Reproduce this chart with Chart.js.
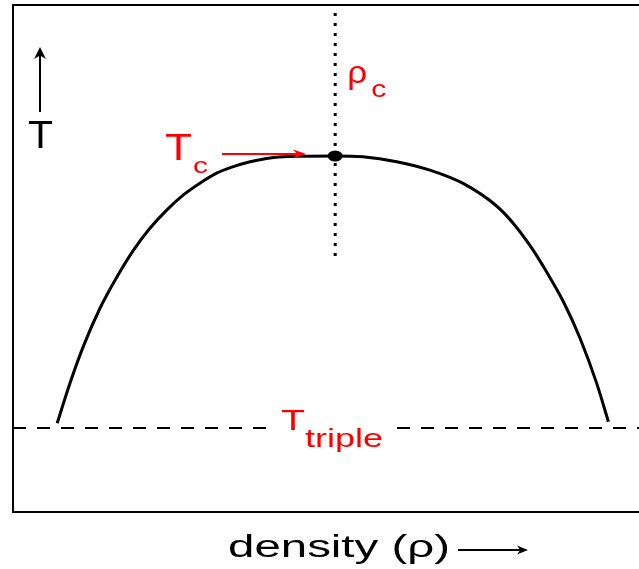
<!DOCTYPE html>
<html>
<head>
<meta charset="utf-8">
<script src="https://cdn.jsdelivr.net/npm/chart.js@4/dist/chart.umd.min.js"></script>
<style>
  html, body { margin: 0; padding: 0; background: #fff; overflow: hidden; }
</style>
</head>
<body>
<canvas id="phase" width="639" height="569" style="display:block;width:639px;height:569px"></canvas>
<script>
// coexistence curve, reduced units (rho/rho_c, T/T_c)
const curveRho = [0.137, 0.177, 0.218, 0.270, 0.322, 0.373, 0.425, 0.477, 0.529, 0.580, 0.632, 0.684, 0.736, 0.787, 0.839, 0.891, 1.000,
                  1.086, 1.191, 1.294, 1.397, 1.501, 1.553, 1.605, 1.656, 1.708, 1.760, 1.812, 1.848];
const curveT   = [0.017, 0.165, 0.299, 0.440, 0.554, 0.652, 0.734, 0.801, 0.857, 0.900, 0.937, 0.961, 0.979, 0.991, 0.997, 0.999, 1.000,
                  0.997, 0.979, 0.948, 0.899, 0.816, 0.752, 0.670, 0.574, 0.465, 0.330, 0.163, 0.023];

// critical point and the dotted guide through it
const criticalRho = 1.0;
const criticalT = 1.0;
const guideT = [1.526, 0.625];

// triple point temperature
const tripleT = 0.0;
const rhoRange = [0, 1.943];
const tRange = [-0.309, 1.555];

const FONT = '"Liberation Sans", Arial, Helvetica, sans-serif';

// draw text stretched to a given width
function stretchText(ctx, text, x, y, size, width, color) {
  ctx.save();
  ctx.font = size + 'px ' + FONT;
  ctx.fillStyle = color;
  ctx.textBaseline = 'alphabetic';
  const w = ctx.measureText(text).width;
  ctx.translate(x, y);
  ctx.scale(width / w, 1);
  ctx.fillText(text, 0, 0);
  ctx.restore();
}

function arrow(ctx, x1, y1, x2, y2, color, lw, headLen, headW) {
  const a = Math.atan2(y2 - y1, x2 - x1);
  ctx.save();
  ctx.strokeStyle = color;
  ctx.fillStyle = color;
  ctx.lineWidth = lw;
  ctx.beginPath();
  ctx.moveTo(x1, y1);
  ctx.lineTo(x2 - Math.cos(a) * headLen * 0.6, y2 - Math.sin(a) * headLen * 0.6);
  ctx.stroke();
  ctx.translate(x2, y2);
  ctx.rotate(a);
  ctx.beginPath();
  ctx.moveTo(0, 0);
  ctx.lineTo(-headLen, -headW);
  ctx.lineTo(-headLen * 0.7, 0);
  ctx.lineTo(-headLen, headW);
  ctx.closePath();
  ctx.fill();
  ctx.restore();
}

// slightly flattened dot for the critical point
const dot = document.createElement('canvas');
dot.width = 16; dot.height = 12;
(function () {
  const c = dot.getContext('2d');
  c.fillStyle = '#000';
  c.beginPath();
  c.ellipse(8, 6, 7.5, 5.5, 0, 0, Math.PI * 2);
  c.fill();
})();

// box open on the right: top, left and bottom edges
const frame = {
  id: 'frame',
  afterDraw(chart) {
    const { ctx, chartArea: a, width } = chart;
    ctx.save();
    ctx.strokeStyle = '#000';
    ctx.lineWidth = 2;
    ctx.beginPath();
    ctx.moveTo(width, a.top);
    ctx.lineTo(a.left, a.top);
    ctx.lineTo(a.left, a.bottom);
    ctx.lineTo(width, a.bottom);
    ctx.stroke();
    ctx.restore();
  }
};

const labels = {
  id: 'labels',
  afterDatasetsDraw(chart) {
    const ctx = chart.ctx;
    const xs = chart.scales.x, ys = chart.scales.y;
    const cx = xs.getPixelForValue(criticalRho);
    const cy = ys.getPixelForValue(criticalT);
    const ty = ys.getPixelForValue(tripleT);

    // vertical axis hint
    arrow(ctx, 40, 112, 40, 47, '#000', 2, 12, 6);
    stretchText(ctx, 'T', 28, 148, 38, 25, '#000');

    // T_c with arrow pointing at the critical point
    stretchText(ctx, 'T', 165, 160, 36, 27, '#f00');
    stretchText(ctx, 'c', 193, 173, 22, 15, '#f00');
    arrow(ctx, 222, cy - 2, cx - 29, cy - 2, '#f00', 2, 13, 4.5);

    // rho_c beside the dotted line
    stretchText(ctx, '\u03c1', cx + 12, 83, 32, 20, '#f00');
    stretchText(ctx, 'c', cx + 36, 97, 24, 15, '#f00');

    // T_triple label sitting on the dashed line
    ctx.save();
    ctx.fillStyle = '#fff';
    ctx.fillRect(273, ty - 8, 118, 16);
    ctx.restore();
    stretchText(ctx, 'T', 281, 430, 30, 24, '#f00');
    stretchText(ctx, 'triple', 305, 447, 26, 78, '#f00');

    // horizontal axis title
    stretchText(ctx, 'density (\u03c1)', 228, 557, 31, 222, '#000');
    arrow(ctx, 458, 550, 528, 550, '#000', 2, 11, 4.5);
  }
};

new Chart(document.getElementById('phase'), {
  type: 'scatter',
  data: {
    datasets: [
      {
        label: 'coexistence',
        data: curveRho.map((r, i) => ({ x: r, y: curveT[i] })),
        showLine: true,
        borderColor: '#000',
        borderWidth: 3,
        pointRadius: 0,
        cubicInterpolationMode: 'monotone',
        fill: false
      },
      {
        label: 'triple',
        data: rhoRange.map(r => ({ x: r, y: tripleT })),
        showLine: true,
        borderColor: '#000',
        borderWidth: 2,
        borderDash: [13, 11],
        pointRadius: 0
      },
      {
        label: 'rho_c',
        data: guideT.map(t => ({ x: criticalRho, y: t })),
        showLine: true,
        borderColor: '#000',
        borderWidth: 3,
        borderDash: [3, 7],
        borderCapStyle: 'butt',
        pointRadius: 0
      },
      {
        label: 'critical point',
        data: [{ x: criticalRho, y: criticalT }],
        pointStyle: dot,
        pointRadius: 6,
        showLine: false
      }
    ]
  },
  options: {
    responsive: false,
    animation: false,
    events: [],
    layout: { autoPadding: false, padding: { left: 13, top: 5, right: 0, bottom: 57 } },
    scales: {
      x: { type: 'linear', min: rhoRange[0], max: rhoRange[1], display: false },
      y: { type: 'linear', min: tRange[0], max: tRange[1], display: false }
    },
    plugins: {
      legend: { display: false },
      tooltip: { enabled: false }
    }
  },
  plugins: [frame, labels]
});
</script>
</body>
</html>
